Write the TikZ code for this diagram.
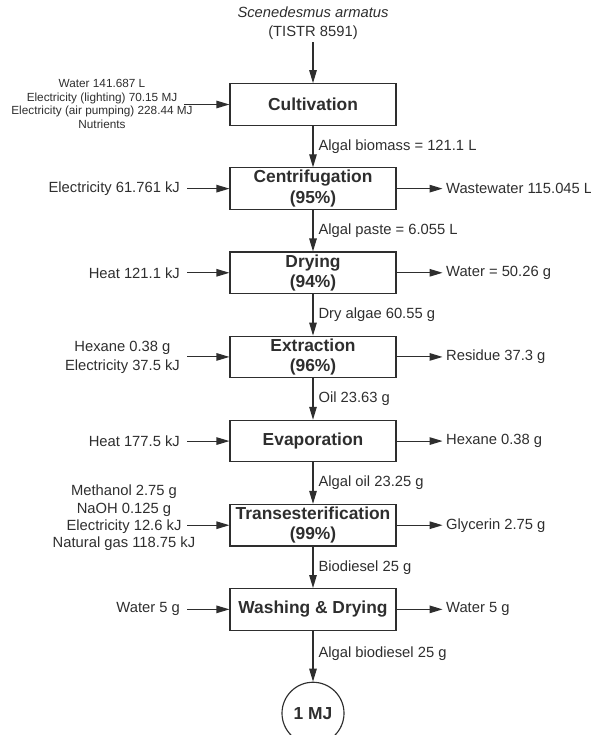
\documentclass[tikz,border=0pt]{standalone}
\usepackage{fontspec}
\setmainfont{Liberation Sans}
\usepackage{xcolor}
\usepackage{tikz}
\usetikzlibrary{arrows.meta,positioning,shapes.geometric}
\definecolor{ink}{HTML}{2E2E2E}

\begin{document}
\begin{tikzpicture}[node distance=0.83cm,>={Triangle[length=2.6mm,width=1.5mm]},color=ink,line width=0.65pt]
\tikzstyle{box}=[draw,align=center,minimum width=3.32cm,minimum height=0.83cm,inner sep=1pt,font=\bfseries\fontsize{9.9}{11.6}\selectfont]
\tikzstyle{feed}=[align=center,inner sep=0.14cm,font=\fontsize{8.4}{10.8}\selectfont]
\tikzstyle{waste}=[align=left,inner sep=0.06cm,font=\fontsize{8.4}{10.8}\selectfont]
\tikzstyle{flow}=[right,inner sep=0.1cm,font=\fontsize{8.4}{10.8}\selectfont]
\useasboundingbox (0,0) rectangle (11.8,-14.7);
% main process chain
\node[box] (cult) at (6.26,-2.09) {Cultivation};
\node[box,below=of cult] (centri) {Centrifugation\\(95\%)};
\node[box,below=of centri] (dry) {Drying\\(94\%)};
\node[box,below=of dry] (extr) {Extraction\\(96\%)};
\node[box,below=of extr] (evap) {Evaporation};
\node[box,below=of evap] (trans) {Transesterification\\(99\%)};
\node[box,below=of trans] (wash) {Washing \& Drying};
\node[draw,circle,minimum size=1.24cm,inner sep=0pt,below=1.02cm of wash,font=\bfseries\fontsize{9.9}{11.6}\selectfont] (mj) {1 MJ};
\node[above=0.82cm of cult,inner sep=1pt,align=center,font=\fontsize{8.4}{10.8}\selectfont] (algae) {\textit{Scenedesmus armatus}\\(TISTR 8591)};
% inputs
\coordinate[left=0.9cm of cult] (cultL);
\node[align=center,font=\fontsize{6.7}{7.9}\selectfont] (cultin) at (2.04,-2.08) {Water 141.687 L\\Electricity (lighting) 70.15 MJ\\Electricity (air pumping) 228.44 MJ\\Nutrients};
\node[feed,left=0.84cm of centri] (centriin) {Electricity 61.761 kJ};
\node[feed,left=0.84cm of dry] (dryin) {Heat 121.1 kJ};
\node[feed,left=0.84cm of extr] (extrin) {Hexane 0.38 g\\Electricity 37.5 kJ};
\node[feed,left=0.84cm of evap] (evapin) {Heat 177.5 kJ};
\coordinate[left=0.84cm of trans] (transL);
\node[align=center,font=\fontsize{8.4}{9.9}\selectfont] (transin) at (2.48,-10.36) {Methanol 2.75 g\\NaOH 0.125 g\\Electricity 12.6 kJ\\Natural gas 118.75 kJ};
\node[feed,left=0.84cm of wash] (washin) {Water 5 g};
% outputs
\node[waste,right=0.92cm of centri] (centriout) {Wastewater 115.045 L};
\node[waste,right=0.92cm of dry] (dryout) {Water = 50.26 g};
\node[waste,right=0.92cm of extr] (extrout) {Residue 37.3 g};
\node[waste,right=0.92cm of evap] (evapout) {Hexane 0.38 g};
\node[waste,right=0.92cm of trans] (transout) {Glycerin 2.75 g};
\node[waste,right=0.92cm of wash] (washout) {Water 5 g};
% main flow
\draw[->] (algae) -- (cult);
\draw[->] (cult) -- node[flow] {Algal biomass = 121.1 L} (centri);
\draw[->] (centri) -- node[flow] {Algal paste = 6.055 L} (dry);
\draw[->] (dry) -- node[flow] {Dry algae 60.55 g} (extr);
\draw[->] (extr) -- node[flow] {Oil 23.63 g} (evap);
\draw[->] (evap) -- node[flow] {Algal oil 23.25 g} (trans);
\draw[->] (trans) -- node[flow] {Biodiesel 25 g} (wash);
\draw[->] (wash) -- node[flow,pos=.45] {Algal biodiesel 25 g} (mj);
% side streams
\draw[->] (cultL) -- (cult);
\draw[->] (centriin) -- (centri);
\draw[->] (dryin) -- (dry);
\draw[->] (extrin) -- (extr);
\draw[->] (evapin) -- (evap);
\draw[->] (transL) -- (trans);
\draw[->] (washin) -- (wash);
\draw[->] (centri) -- (centriout);
\draw[->] (dry) -- (dryout);
\draw[->] (extr) -- (extrout);
\draw[->] (evap) -- (evapout);
\draw[->] (trans) -- (transout);
\draw[->] (wash) -- (washout);
\end{tikzpicture}
\end{document}
